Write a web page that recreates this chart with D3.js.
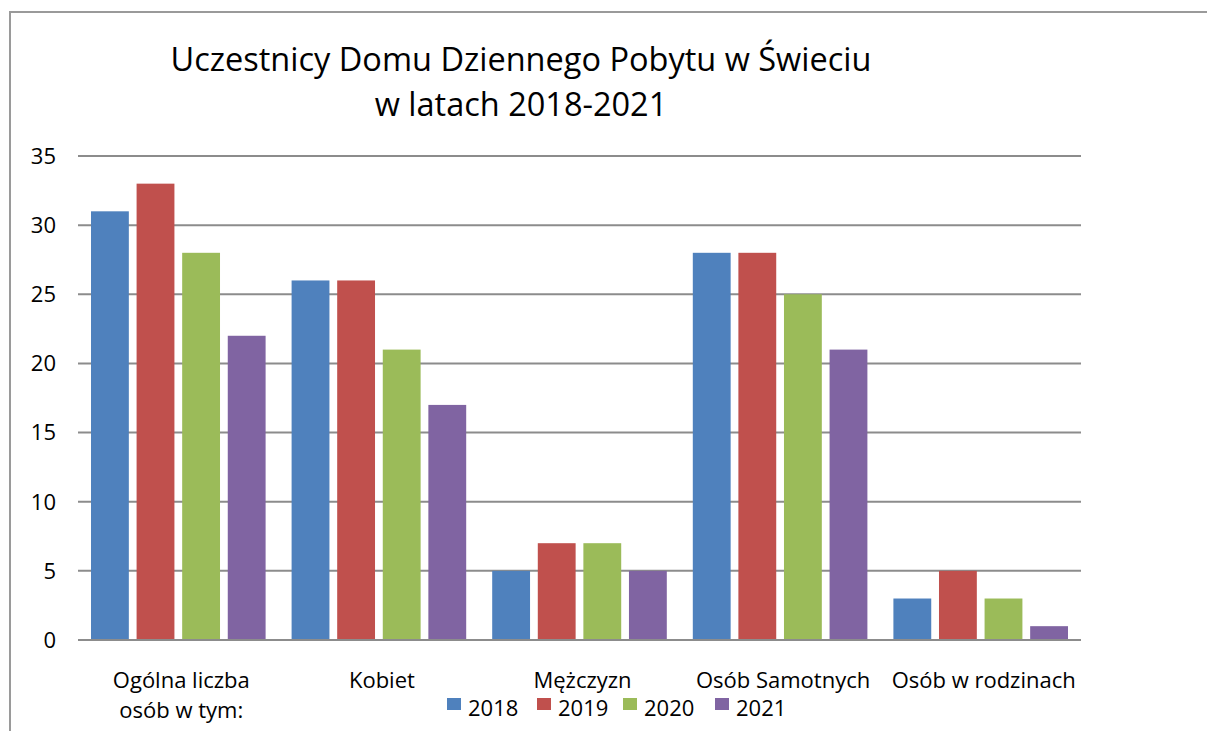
<!DOCTYPE html>
<html>
<head>
<meta charset="utf-8">
<script src="https://cdn.jsdelivr.net/npm/d3@7"></script>
<style>
  body { margin: 0; background: #fff; }
  text { font-family: "Open Sans", "Noto Sans", sans-serif; fill: #000; }
</style>
</head>
<body>
<div id="chart"></div>
<script>
// Data
let categories = ["Ogólna liczba|osób w tym:", "Kobiet", "Mężczyzn", "Osób Samotnych", "Osób w rodzinach"];
let years = ["2018", "2019", "2020", "2021"];
let v2018 = [31, 26, 5, 28, 3];
let v2019 = [33, 26, 7, 28, 5];
let v2020 = [28, 21, 7, 25, 3];
let v2021 = [22, 17, 5, 21, 1];
let yTicks = [0, 5, 10, 15, 20, 25, 30, 35];
let colors = ["#4F81BD", "#C0504D", "#9BBB59", "#8064A2"];

let series = [v2018, v2019, v2020, v2021];

let svgWidth = 1207;
let svgHeight = 731;
let margin = { top: 156, right: 126, bottom: 91, left: 78 };
let width = svgWidth - margin.left - margin.right;
let height = svgHeight - margin.top - margin.bottom;

let svg = d3.select("#chart")
  .append("svg")
  .attr("width", svgWidth)
  .attr("height", svgHeight);

// frame (top and left edges visible)
svg.append("path")
  .attr("d", `M10,${svgHeight} L10,12 L${svgWidth},12`)
  .attr("fill", "none")
  .attr("stroke", "#9a9a9a")
  .attr("stroke-width", 2);

// title
let title = svg.append("text")
  .attr("text-anchor", "middle")
  .attr("font-size", 32.5);
title.append("tspan").attr("x", 521).attr("y", 71).text("Uczestnicy Domu Dziennego Pobytu w Świeciu");
title.append("tspan").attr("x", 521).attr("y", 116).text("w latach 2018-2021");

let chartGroup = svg.append("g")
  .attr("transform", `translate(${margin.left}, ${margin.top})`);

let x0 = d3.scaleBand()
  .domain(categories)
  .range([0, width]);

let x1 = d3.scaleBand()
  .domain(years)
  .range([13, x0.bandwidth() - 13])
  .paddingInner(0.17);

let y = d3.scaleLinear()
  .domain([0, 35])
  .range([height, 0]);

// gridlines
chartGroup.append("g")
  .selectAll("line")
  .data(yTicks)
  .enter()
  .append("line")
  .attr("x1", 0)
  .attr("x2", width)
  .attr("y1", d => y(d))
  .attr("y2", d => y(d))
  .attr("stroke", "#8c8c8c")
  .attr("stroke-width", 2);

// y tick labels
chartGroup.append("g")
  .selectAll("text")
  .data(yTicks)
  .enter()
  .append("text")
  .attr("x", -22)
  .attr("y", d => y(d))
  .attr("dy", "0.36em")
  .attr("text-anchor", "end")
  .attr("font-size", 22)
  .text(d => d);

// bars
let groups = chartGroup.selectAll(".cat")
  .data(categories)
  .enter()
  .append("g")
  .classed("cat", true)
  .attr("transform", d => `translate(${x0(d)},0)`);

groups.selectAll("rect")
  .data((d, i) => years.map((yr, j) => ({ yr: yr, value: series[j][i], color: colors[j] })))
  .enter()
  .append("rect")
  .attr("x", d => x1(d.yr))
  .attr("width", x1.bandwidth())
  .attr("y", d => y(d.value))
  .attr("height", d => y(0) - y(d.value))
  .attr("fill", d => d.color);

// baseline over bars
chartGroup.append("line")
  .attr("x1", 0)
  .attr("x2", width)
  .attr("y1", y(0))
  .attr("y2", y(0))
  .attr("stroke", "#8c8c8c")
  .attr("stroke-width", 2);

// category labels
let catLabels = chartGroup.append("g")
  .selectAll("text")
  .data(categories)
  .enter()
  .append("text")
  .attr("text-anchor", "middle")
  .attr("font-size", 22)
  .attr("y", height + 48);

catLabels.each(function(d) {
  let parts = d.split("|");
  let t = d3.select(this);
  parts.forEach((p, k) => {
    t.append("tspan")
      .attr("x", x0(d) + x0.bandwidth() / 2 + 3)
      .attr("dy", k === 0 ? 0 : 30)
      .text(p);
  });
});

// legend
let legendX = [447, 537, 623, 715];
let legend = svg.append("g");
years.forEach((yr, j) => {
  legend.append("rect")
    .attr("x", legendX[j])
    .attr("y", 698)
    .attr("width", 14)
    .attr("height", 12)
    .attr("fill", colors[j]);
  legend.append("text")
    .attr("x", legendX[j] + 21)
    .attr("y", 716)
    .attr("font-size", 22)
    .text(yr);
});
</script>
</body>
</html>
